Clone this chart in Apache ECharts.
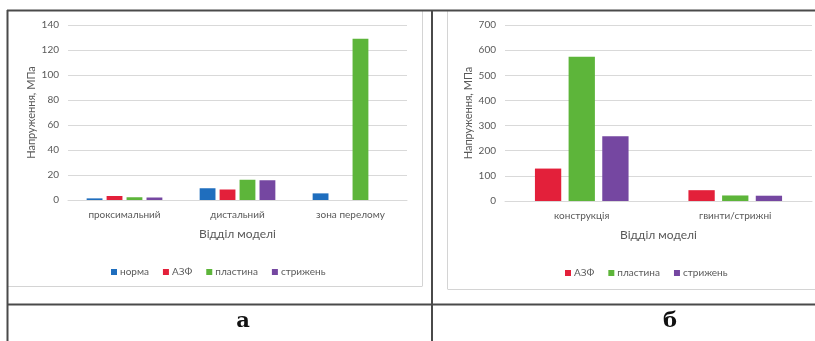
<!DOCTYPE html>
<html>
<head>
<meta charset="utf-8">
<script src="https://cdn.jsdelivr.net/npm/echarts@6/dist/echarts.min.js"></script>
<style>
  html, body { margin: 0; padding: 0; background: #fff; }
  #chart { width: 815px; height: 341px; }
</style>
</head>
<body>
<div id="chart"></div>
<script>
// Panel "а": stress by model region
const categoriesA = ['проксимальний', 'дистальний', 'зона перелому'];
const normaA = [1.3, 9.4, 5.3];
const azfA = [3.2, 8.4, null];
const plastynaA = [2.2, 16.2, 129];
const stryzhenA = [2.0, 15.8, null];
const ticksA = { min: 0, max: 140, interval: 20 };

// Panel "б": stress in fixation hardware
const categoriesB = ['конструкція', 'гвинти/стрижні'];
const azfB = [129, 43];
const plastynaB = [574, 22];
const stryzhenB = [258, 21];
const ticksB = { min: 0, max: 700, interval: 100 };

const COLORS = { norma: '#1F6EBE', azf: '#E3203A', plast: '#5DB53A', stryzh: '#7547A1' };
const TEXT = '#595959';
const FONT = 'Lato, "Open Sans", sans-serif';

const chart = echarts.init(document.getElementById('chart'), null, { renderer: 'canvas' });

function bar(name, data, color, idx, catGap, gap) {
  return {
    name, type: 'bar', data, xAxisIndex: idx, yAxisIndex: idx,
    itemStyle: { color },
    barGap: gap, barCategoryGap: catGap,
    animation: false
  };
}

function xAxis(idx, cats) {
  return {
    type: 'category', gridIndex: idx, data: cats,
    axisLine: { show: true, lineStyle: { color: '#d9d9d9', width: 1 } },
    axisTick: { show: false },
    axisLabel: { color: TEXT, fontSize: 10, fontFamily: FONT, margin: 10 },
    name: 'Відділ моделі', nameLocation: 'middle', nameGap: 28,
    nameTextStyle: { color: TEXT, fontSize: 12, fontFamily: FONT }
  };
}

function yAxis(idx, t) {
  return {
    type: 'value', gridIndex: idx, min: t.min, max: t.max, interval: t.interval,
    axisLine: { show: false }, axisTick: { show: false },
    splitLine: { lineStyle: { color: '#d9d9d9', width: 1 } },
    axisLabel: { color: TEXT, fontSize: 10, fontFamily: FONT, margin: 9 },
    name: 'Напруження, МПа', nameLocation: 'middle', nameGap: 31,
    nameTextStyle: { color: TEXT, fontSize: 11, fontFamily: FONT }
  };
}

const dark = { stroke: '#4a4a4a', lineWidth: 2 };
const light = { stroke: '#d4d4d4', lineWidth: 1 };
function line(x1, y1, x2, y2, style) {
  return { type: 'line', silent: true, shape: { x1, y1, x2, y2 }, style };
}

const legendText = { color: TEXT, fontSize: 10, fontFamily: FONT, padding: [0, 0, 0, -2] };

chart.setOption({
  backgroundColor: '#ffffff',
  animation: false,
  textStyle: { fontFamily: FONT },
  grid: [
    { left: 68, right: 408, top: 25, bottom: 141 },
    { left: 505, right: 3, top: 25, bottom: 140 }
  ],
  xAxis: [xAxis(0, categoriesA), xAxis(1, categoriesB)],
  yAxis: [yAxis(0, ticksA), yAxis(1, ticksB)],
  legend: [
    {
      data: ['норма', 'АЗФ', 'пластина', 'стрижень'],
      left: 106, top: 262, selectedMode: false,
      itemWidth: 6, itemHeight: 6, itemGap: 14, icon: 'rect',
      textStyle: legendText
    },
    {
      data: ['АЗФ', 'пластина', 'стрижень'],
      left: 560, top: 263, selectedMode: false,
      itemWidth: 6, itemHeight: 6, itemGap: 14, icon: 'rect',
      textStyle: legendText
    }
  ],
  series: [
    bar('норма', normaA, COLORS.norma, 0, '33%', '26%'),
    bar('АЗФ', azfA, COLORS.azf, 0, '33%', '26%'),
    bar('пластина', plastynaA, COLORS.plast, 0, '33%', '26%'),
    bar('стрижень', stryzhenA, COLORS.stryzh, 0, '33%', '26%'),
    bar('АЗФ', azfB, COLORS.azf, 1, '39%', '28%'),
    bar('пластина', plastynaB, COLORS.plast, 1, '39%', '28%'),
    bar('стрижень', stryzhenB, COLORS.stryzh, 1, '39%', '28%')
  ],
  graphic: [
    // chart area frames
    line(422.5, 11, 422.5, 286, light),
    line(8, 286.5, 422.5, 286.5, light),
    line(447.5, 11, 447.5, 289, light),
    line(447.5, 289.5, 815, 289.5, light),
    // table rules
    line(7, 10.5, 815, 10.5, dark),
    line(7.5, 10, 7.5, 341, dark),
    line(432, 10, 432, 341, dark),
    line(7, 304.5, 815, 304.5, dark),
    // panel captions
    { type: 'text', silent: true, style: { text: 'а', x: 243, y: 322, textAlign: 'center', textVerticalAlign: 'middle',
      font: 'bold 21px "DejaVu Serif", "Liberation Serif", serif', fill: '#111' } },
    { type: 'text', silent: true, style: { text: 'б', x: 670, y: 322, textAlign: 'center', textVerticalAlign: 'middle',
      font: 'bold 21px "DejaVu Serif", "Liberation Serif", serif', fill: '#111' } }
  ]
});
</script>
</body>
</html>
